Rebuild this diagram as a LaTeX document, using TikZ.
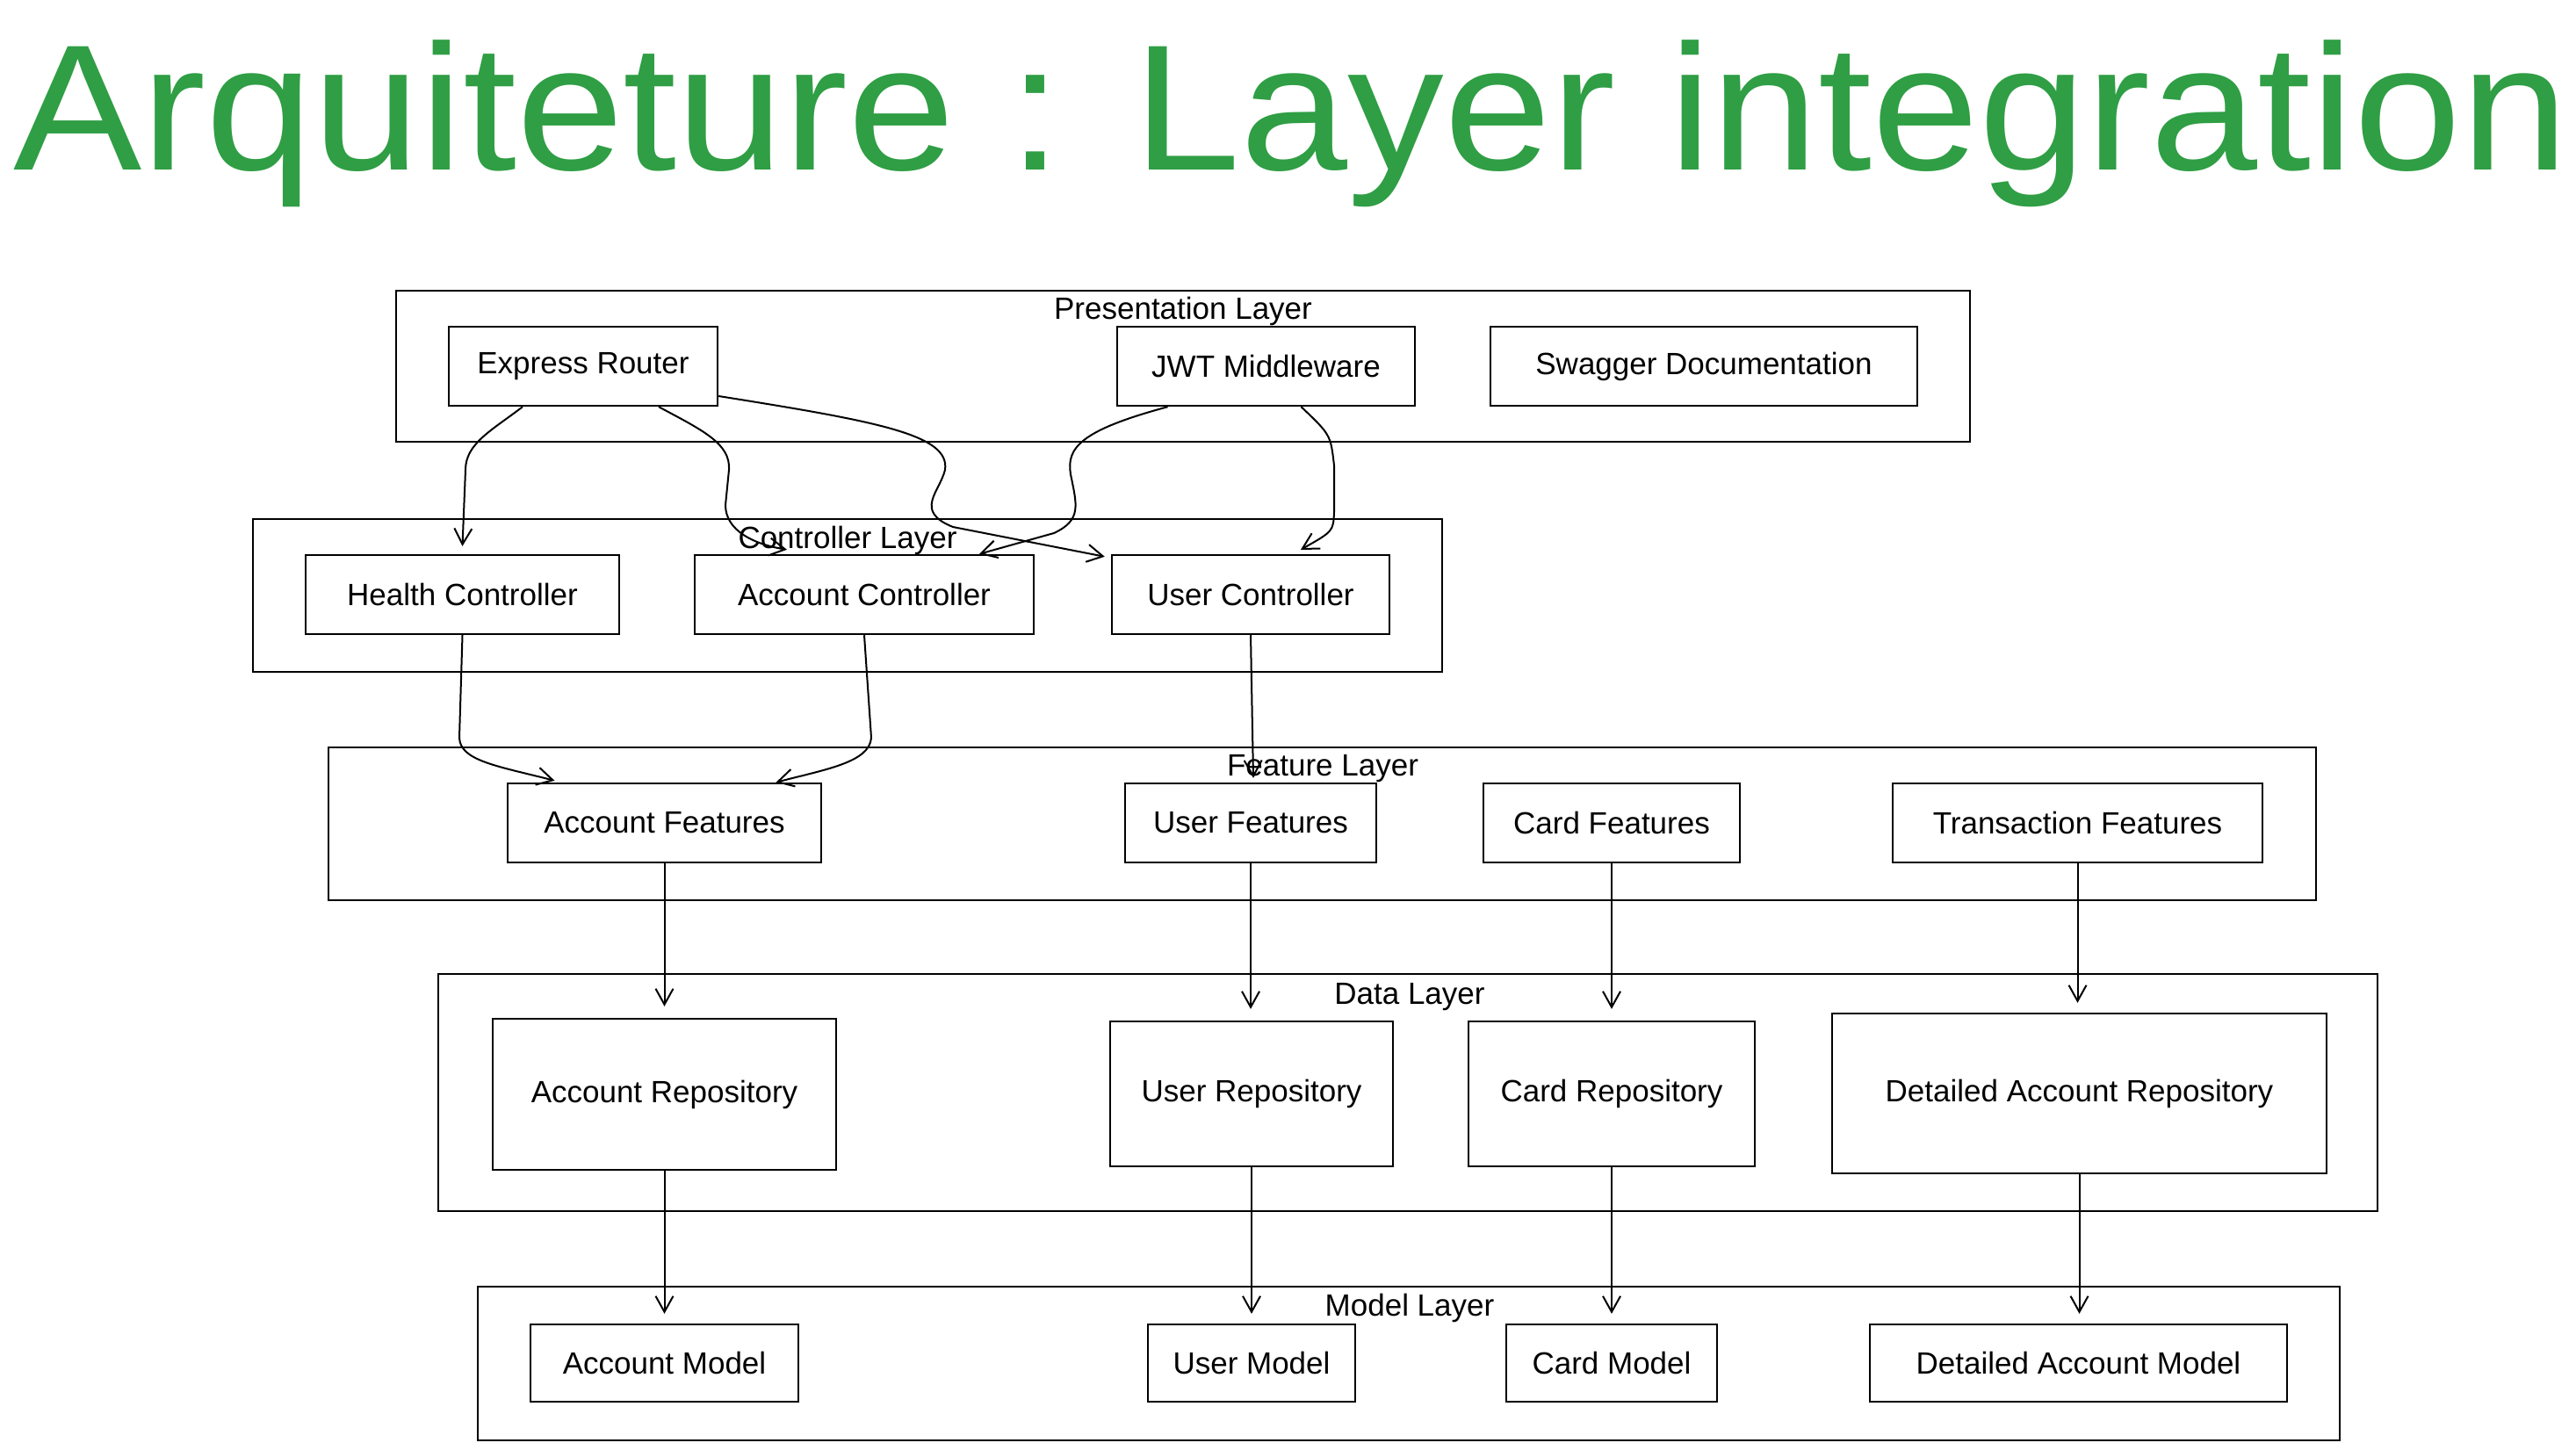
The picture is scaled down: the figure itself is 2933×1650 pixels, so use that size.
\documentclass[tikz,border=0pt]{standalone}
\usepackage{fontspec}
\setmainfont{Liberation Sans}
\usetikzlibrary{arrows.meta,calc}
\definecolor{titlegreen}{HTML}{2F9E44}
\begin{document}
\begin{tikzpicture}[x=1pt,y=-1pt,
  box/.style={draw,line width=2.4pt,minimum height=90pt,inner sep=0pt,font=\fontsize{35}{42}\selectfont},
  layer/.style={draw,line width=2.6pt,inner sep=0pt},
  layerlabel/.style={font=\fontsize{35}{42}\selectfont,inner sep=0pt},
  conn/.style={line width=2pt,-{Straight Barb[length=18pt,width=20pt]}},
]
\useasboundingbox (0,0) rectangle (2933,1650);
\fill[white] (0,0) rectangle (2933,1650);

% title
\node[anchor=base west,inner sep=0pt,text=titlegreen,font=\fontsize{204}{240}\selectfont] (title) at (15,193)
  {\scalebox{1.075}[1]{Arquiteture : Layer integration}};

% layers
\node[layer,minimum width=1792pt,minimum height=172pt] (pl) at (1347,417) {};
\node[layer,minimum width=1354pt,minimum height=174pt] (cl) at (965,678) {};
\node[layer,minimum width=2263pt,minimum height=174pt] (fl) at (1505.5,938) {};
\node[layer,minimum width=2208pt,minimum height=270pt] (dl) at (1603,1244) {};
\node[layer,minimum width=2120pt,minimum height=175pt] (ml) at (1604,1552.5) {};

\node[layerlabel] (pll) at (1347,354) {Presentation Layer};
\node[layerlabel] (cll) at (965,615) {Controller Layer};
\node[layerlabel] (fll) at (1506,875) {Feature Layer};
\node[layerlabel] (dll) at (1605,1135) {Data Layer};
\node[layerlabel] (mll) at (1605,1489) {Model Layer};

% presentation
\node[box,minimum width=306pt] (er) at (664,417) {Express Router};
\node[box,minimum width=339pt] (jwt) at (1441.5,417) {JWT Middleware};
\node[box,minimum width=486pt] (sw) at (1940,417) {Swagger Documentation};

% controllers
\node[box,minimum width=357pt] (hc) at (526.5,677) {Health Controller};
\node[box,minimum width=386pt] (ac) at (984,677) {Account Controller};
\node[box,minimum width=316pt] (uc) at (1424,677) {User Controller};

% features
\node[box,minimum width=357pt] (af) at (756.5,937) {Account Features};
\node[box,minimum width=286pt] (uf) at (1424,937) {User Features};
\node[box,minimum width=292pt] (cf) at (1835,937) {Card Features};
\node[box,minimum width=421pt] (tf) at (2365.5,937) {Transaction Features};

% repositories
\node[box,minimum width=391pt,minimum height=172pt] (ar) at (756.5,1246) {Account Repository};
\node[box,minimum width=322pt,minimum height=165pt] (ur) at (1425,1245.5) {User Repository};
\node[box,minimum width=326pt,minimum height=165pt] (cr) at (1835,1245.5) {Card Repository};
\node[box,minimum width=563pt,minimum height=182pt] (dr) at (2367.5,1245) {Detailed Account Repository};

% models
\node[box,minimum width=305pt,minimum height=88pt] (am) at (756.5,1552) {Account Model};
\node[box,minimum width=236pt,minimum height=88pt] (um) at (1425,1552) {User Model};
\node[box,minimum width=240pt,minimum height=88pt] (cm) at (1835,1552) {Card Model};
\node[box,minimum width=475pt,minimum height=88pt] (dm) at (2366.5,1552) {Detailed Account Model};

% presentation -> controllers
\draw[conn] ([xshift=-69pt]er.south) .. controls (560,490) and (530,505) .. (530,535)
   -- ([yshift=9pt]hc.north);
\draw[conn] ([xshift=86pt]er.south) .. controls (800,490) and (832,505) .. (830,535)
   -- (826,575) .. controls (826,605) and (860,620) .. ([xshift=-88pt,yshift=5pt]ac.north);
\draw[conn] ([yshift=-34pt]er.east) .. controls (1000,480) and (1082,495) .. (1076,535)
   .. controls (1070,560) and (1040,582) .. (1085,600) -- ([xshift=-7pt,yshift=-3pt]uc.north west);
\draw[conn] ([xshift=-112pt]jwt.south) .. controls (1230,490) and (1214,510) .. (1219,540)
   .. controls (1226,575) and (1232,592) .. (1200,607) -- ([xshift=131pt]ac.north);
\draw[conn] ([xshift=40pt]jwt.south) .. controls (1515,495) .. (1519,530)
   -- (1519,583) .. controls (1518,605) .. ([xshift=57pt,yshift=5pt]uc.north);

% controllers -> features
\draw[conn] (hc.south) -- (523,840) .. controls (524,866) and (565,872) .. ([xshift=-125pt,yshift=2pt]af.north);
\draw[conn] (ac.south) -- (992,840) .. controls (990,868) and (940,876) .. ([xshift=127pt]af.north);
\draw[conn] (uc.south) -- ([xshift=3pt,yshift=5pt]uf.north);

% features -> repositories
\draw[conn,shorten >=13pt] (af.south) -- (af.south |- ar.north);
\draw[conn,shorten >=13pt] (uf.south) -- (uf.south |- ur.north);
\draw[conn,shorten >=13pt] (cf.south) -- (cf.south |- cr.north);
\draw[conn,shorten >=11pt] (tf.south) -- (tf.south |- dr.north);

% repositories -> models
\draw[conn,shorten >=11pt] (ar.south) -- (ar.south |- am.north);
\draw[conn,shorten >=11pt] (ur.south) -- (ur.south |- um.north);
\draw[conn,shorten >=11pt] (cr.south) -- (cr.south |- cm.north);
\draw[conn,shorten >=11pt] (dr.south) -- (dr.south |- dm.north);
\end{tikzpicture}
\end{document}
